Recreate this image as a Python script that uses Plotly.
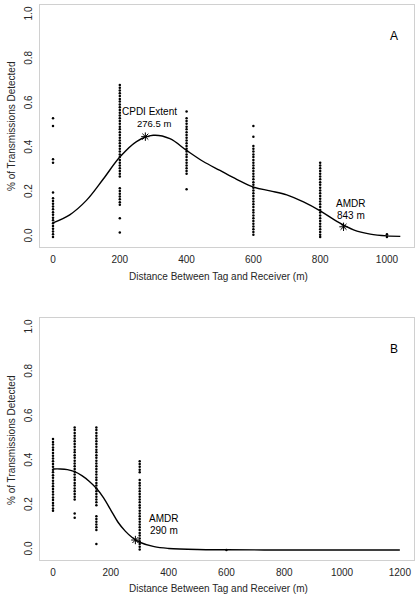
import plotly.graph_objects as go

# ---------------- Panel A data ----------------
a_dist = [0, 200, 400, 600, 800, 1000]
a_obs_0 = [0.535, 0.50, 0.35, 0.335, 0.20, 0.175, 0.162, 0.15, 0.137, 0.125, 0.112, 0.10,
           0.087, 0.075, 0.062, 0.05, 0.037, 0.025, 0.012, 0.0]
a_obs_200 = [0.685, 0.672, 0.66, 0.647, 0.635, 0.622, 0.61, 0.597, 0.585, 0.572, 0.56, 0.547,
             0.535, 0.522, 0.51, 0.497, 0.485, 0.472, 0.46, 0.447, 0.435, 0.422, 0.41, 0.397,
             0.385, 0.372, 0.36, 0.347, 0.335, 0.322, 0.31, 0.297, 0.285, 0.272,
             0.22, 0.207, 0.195, 0.182, 0.17, 0.157, 0.145, 0.085, 0.02]
a_obs_400 = [0.565, 0.535, 0.522, 0.51, 0.497, 0.485, 0.472, 0.46, 0.447, 0.435, 0.422, 0.41,
             0.397, 0.385, 0.372, 0.36, 0.347, 0.335, 0.322, 0.31, 0.297, 0.285, 0.215]
a_obs_600 = [0.50, 0.452, 0.41, 0.397, 0.385, 0.372, 0.36, 0.347, 0.335, 0.322, 0.31, 0.297,
             0.285, 0.272, 0.26, 0.247, 0.235, 0.222, 0.21, 0.197, 0.185, 0.172, 0.16, 0.147,
             0.135, 0.122, 0.11, 0.097, 0.085, 0.072, 0.06, 0.047, 0.035, 0.022, 0.01]
a_obs_800 = [0.335, 0.322, 0.31, 0.297, 0.285, 0.272, 0.26, 0.247, 0.235, 0.222, 0.21, 0.197,
             0.185, 0.172, 0.16, 0.147, 0.135, 0.122, 0.11, 0.097, 0.085, 0.072, 0.06, 0.047,
             0.035, 0.022, 0.01, 0.0]
a_obs_1000 = [0.012, 0.0]
a_obs = [a_obs_0, a_obs_200, a_obs_400, a_obs_600, a_obs_800, a_obs_1000]

a_fit_x = [0, 50, 100, 150, 200, 250, 300, 350, 400, 450, 500, 550, 600, 650, 700, 750,
           800, 850, 900, 950, 1000, 1040]
a_fit_y = [0.064, 0.10, 0.165, 0.26, 0.36, 0.43, 0.458, 0.443, 0.39, 0.34, 0.30, 0.26,
           0.225, 0.208, 0.19, 0.158, 0.118, 0.07, 0.032, 0.013, 0.005, 0.003]

a_star_x = [276.5, 870]
a_star_y = [0.452, 0.046]

# ---------------- Panel B data ----------------
b_dist = [0, 75, 150, 300, 600]
b_obs_0 = [0.50, 0.487, 0.475, 0.462, 0.45, 0.437, 0.425, 0.412, 0.40, 0.387, 0.375, 0.362,
           0.35, 0.337, 0.325, 0.312, 0.30, 0.287, 0.275, 0.262, 0.25, 0.237, 0.225, 0.212,
           0.20, 0.187, 0.177]
b_obs_75 = [0.552, 0.54, 0.527, 0.515, 0.502, 0.49, 0.477, 0.465, 0.452, 0.44, 0.427, 0.415,
            0.402, 0.39, 0.377, 0.365, 0.352, 0.34, 0.327, 0.315, 0.302, 0.29, 0.277, 0.265,
            0.252, 0.24, 0.227, 0.165, 0.145]
b_obs_150 = [0.552, 0.54, 0.527, 0.515, 0.502, 0.49, 0.477, 0.465, 0.452, 0.44, 0.427, 0.415,
             0.402, 0.39, 0.377, 0.365, 0.352, 0.34, 0.327, 0.315, 0.302, 0.29, 0.277, 0.265,
             0.252, 0.24, 0.227, 0.215, 0.202, 0.152, 0.14, 0.127, 0.115, 0.102, 0.09, 0.027]
b_obs_300 = [0.40, 0.387, 0.375, 0.362, 0.35, 0.315, 0.302, 0.29, 0.277, 0.265, 0.252, 0.24,
             0.227, 0.215, 0.202, 0.19, 0.177, 0.165, 0.152, 0.14, 0.127, 0.115, 0.102, 0.09,
             0.077, 0.065, 0.052, 0.04, 0.027, 0.015, 0.002]
b_obs_600 = [0.0]
b_obs = [b_obs_0, b_obs_75, b_obs_150, b_obs_300, b_obs_600]

b_fit_x = [0, 25, 50, 75, 100, 125, 150, 175, 200, 225, 250, 275, 300, 350, 400, 500, 600,
           800, 1000, 1200]
b_fit_y = [0.365, 0.365, 0.362, 0.353, 0.335, 0.31, 0.278, 0.235, 0.18, 0.125, 0.085, 0.055,
           0.035, 0.015, 0.007, 0.002, 0.001, 0.0, 0.0, 0.0]

b_star_x = [285]
b_star_y = [0.045]

tick_y = [0.0, 0.2, 0.4, 0.6, 0.8, 1.0]
tick_y_text = ["0.0", "0.2", "0.4", "0.6", "0.8", "1.0"]
tick_xa = [0, 200, 400, 600, 800, 1000]
tick_xb = [0, 200, 400, 600, 800, 1000, 1200]

FONT = "Liberation Sans, Arial, Helvetica, sans-serif"
TXT = "#262626"

fig = go.Figure()


def add_points(dists, obs, xa, ya):
    xs, ys = [], []
    for d, vals in zip(dists, obs):
        xs += [d] * len(vals)
        ys += vals
    fig.add_trace(go.Scatter(x=xs, y=ys, mode="markers", xaxis=xa, yaxis=ya,
                             marker=dict(size=2.5, color="black", line=dict(width=0)),
                             showlegend=False, hoverinfo="skip"))


add_points(a_dist, a_obs, "x", "y")
fig.add_trace(go.Scatter(x=a_fit_x, y=a_fit_y, mode="lines", line=dict(color="black", width=1.4, shape="spline"),
                         xaxis="x", yaxis="y", showlegend=False))
fig.add_trace(go.Scatter(x=a_star_x, y=a_star_y, mode="markers", xaxis="x", yaxis="y",
                         marker=dict(symbol="asterisk-open", size=7, color="black", line=dict(width=1, color="black")),
                         showlegend=False))

add_points(b_dist, b_obs, "x2", "y2")
fig.add_trace(go.Scatter(x=b_fit_x, y=b_fit_y, mode="lines", line=dict(color="black", width=1.4, shape="spline"),
                         xaxis="x2", yaxis="y2", showlegend=False))
fig.add_trace(go.Scatter(x=b_star_x, y=b_star_y, mode="markers", xaxis="x2", yaxis="y2",
                         marker=dict(symbol="asterisk-open", size=7, color="black", line=dict(width=1, color="black")),
                         showlegend=False))

H = 600
mt, mb = 5, 40
ph = H - mt - mb
domA = [(560 - 247) / ph, 1.0]
domB = [0.0, (560 - 318) / ph]

axis_common = dict(showgrid=False, zeroline=False, showline=True, mirror=True,
                   linecolor="#d0d0d0", linewidth=1, ticks="outside", ticklen=3,
                   tickcolor="rgba(0,0,0,0)", tickfont=dict(family=FONT, size=10, color=TXT))

fig.update_layout(
    width=420, height=600,
    margin=dict(l=40, r=6, t=mt, b=mb),
    paper_bgcolor="white", plot_bgcolor="white",
    font=dict(family=FONT, size=10, color=TXT),
    xaxis=dict(domain=[0, 1], anchor="y", range=[-39, 1081], tickvals=tick_xa, **axis_common),
    yaxis=dict(domain=domA, anchor="x", range=[-0.045, 1.045], tickvals=tick_y, ticktext=tick_y_text,
               tickangle=-90, **axis_common),
    xaxis2=dict(domain=[0, 1], anchor="y2", range=[-45, 1249], tickvals=tick_xb, **axis_common),
    yaxis2=dict(domain=domB, anchor="x2", range=[-0.045, 1.045], tickvals=tick_y, ticktext=tick_y_text,
                tickangle=-90, **axis_common),
)

ann = []
# axis titles
for ytop in [276, 588]:
    ann.append(dict(text="Distance Between Tag and Receiver (m)", xref="paper", yref="paper",
                    x=(218 - 40) / 374, y=(560 - ytop) / ph, showarrow=False,
                    xanchor="center", yanchor="middle", font=dict(size=10, color=TXT, family=FONT)))
for yc in [126, 440]:
    ann.append(dict(text="% of Transmissions Detected", xref="paper", yref="paper",
                    x=(11 - 40) / 374, y=(560 - yc) / ph, showarrow=False, textangle=-90,
                    xanchor="center", yanchor="middle", font=dict(size=10, color=TXT, family=FONT)))
# panel letters
ann.append(dict(text="A", xref="x domain", yref="y domain", x=0.963, y=0.909, showarrow=False,
                font=dict(size=12, color="black", family=FONT)))
ann.append(dict(text="B", xref="x2 domain", yref="y2 domain", x=0.963, y=0.909, showarrow=False,
                font=dict(size=12, color="black", family=FONT)))
# labels
ann.append(dict(text="CPDI Extent", xref="x", yref="y", x=290, y=0.567, showarrow=False,
                font=dict(size=10, color="black", family=FONT)))
ann.append(dict(text="276.5 m", xref="x", yref="y", x=302, y=0.51, showarrow=False,
                font=dict(size=9.5, color="black", family=FONT)))
ann.append(dict(text="AMDR", xref="x", yref="y", x=892, y=0.149, showarrow=False,
                font=dict(size=10, color="black", family=FONT)))
ann.append(dict(text="843 m", xref="x", yref="y", x=892, y=0.099, showarrow=False,
                font=dict(size=10, color="black", family=FONT)))
ann.append(dict(text="AMDR", xref="x2", yref="y2", x=383, y=0.14, showarrow=False,
                font=dict(size=10, color="black", family=FONT)))
ann.append(dict(text="290 m", xref="x2", yref="y2", x=383, y=0.087, showarrow=False,
                font=dict(size=10, color="black", family=FONT)))
fig.update_layout(annotations=ann)

fig.write_html("out.html", config={"displayModeBar": False},
               post_script="document.body.style.margin='0';document.body.style.padding='0';")
